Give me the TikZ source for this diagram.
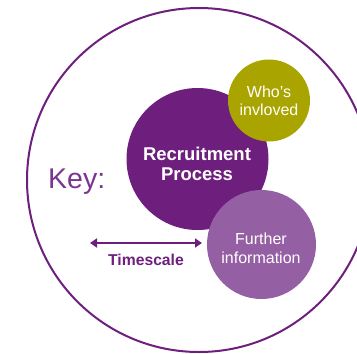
\documentclass[tikz,border=0pt]{standalone}
\usepackage{fontspec}
\setmainfont{Liberation Sans}
\usetikzlibrary{arrows.meta}
\definecolor{deeppurple}{HTML}{6E1F7E}
\definecolor{olivegold}{HTML}{A9A400}
\definecolor{lilac}{HTML}{9560A3}
\definecolor{keypurple}{HTML}{7A3590}
\tikzset{
  disc/.style={circle, inner sep=0pt, draw=none},
  whitetext/.style={text=white, align=center, inner sep=0pt},
}
\begin{document}
\begin{tikzpicture}[x=1pt,y=-1pt]
\useasboundingbox (0,0) rectangle (357,354);
\clip (0,0) rectangle (357,354);
% outer ring
\node[circle, draw=deeppurple, line width=2pt, minimum size=344pt, inner sep=0pt] (ring) at (199,180) {};
% discs
\node[disc, fill=deeppurple, minimum size=142pt] (main) at (197.5,159) {};
\node[disc, fill=olivegold, minimum size=82pt] (who) at (269,100.5) {};
\node[disc, fill=lilac, minimum size=109pt] (further) at (261.5,244.5) {};
% texts
\node[whitetext, font=\bfseries\fontsize{18.5}{20}\selectfont] (maintext) at (197,164) {Recruitment\\Process};
\node[whitetext, font=\fontsize{16}{18.5}\selectfont] (whotext) at (269,101) {Who’s\\invloved};
\node[whitetext, font=\fontsize{16}{19}\selectfont] (furthertext) at (261,248) {Further\\information};
\node[text=keypurple, anchor=base west, inner sep=0pt, font=\fontsize{28.5}{30}\selectfont] (key) at (48,188) {Key:};
% timescale
\coordinate (ta) at (90,243);
\coordinate (tb) at (202,243);
\draw[deeppurple, line width=2pt, {Triangle[width=9pt,length=7pt]}-{Triangle[width=9pt,length=7pt]}] (ta) -- (tb);
\node[text=deeppurple, anchor=base, inner sep=0pt, font=\bfseries\fontsize{15.7}{18}\selectfont] (timescale) at (146,265) {Timescale};
\end{tikzpicture}
\end{document}
